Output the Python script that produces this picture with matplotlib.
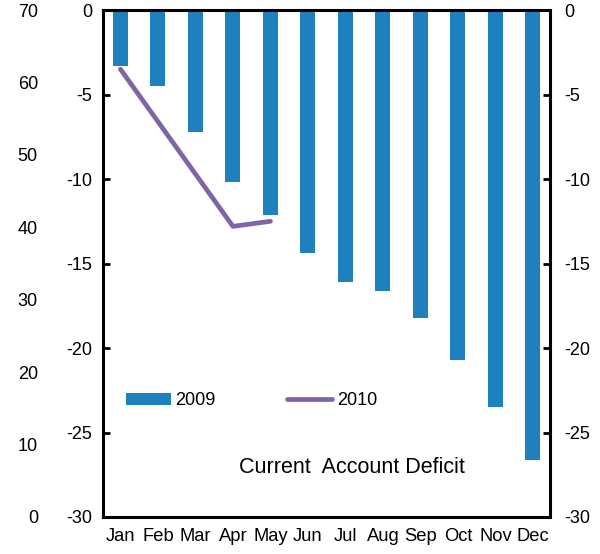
import matplotlib
matplotlib.use("Agg")
import matplotlib.pyplot as plt
import numpy as np

plt.rcParams['font.family'] = ['Liberation Sans', 'DejaVu Sans']
plt.rcParams['axes.unicode_minus'] = False

months = ["Jan", "Feb", "Mar", "Apr", "May", "Jun", "Jul", "Aug", "Sep", "Oct", "Nov", "Dec"]
deficit_2009 = [-3.3, -4.5, -7.2, -10.2, -12.1, -14.4, -16.1, -16.6, -18.2, -20.7, -23.5, -26.6]
deficit_2010 = [-3.5, -6.6, -9.7, -12.8, -12.5]
left_ticks = [0, -5, -10, -15, -20, -25, -30]
outer_ticks = [0, 10, 20, 30, 40, 50, 60, 70]

bar_color = "#1f80c0"
line_color = "#8064a8"

fig = plt.figure(figsize=(6.0, 5.54), dpi=100)
ax = fig.add_axes([0.172, 0.0668, 0.745, 0.915])
x = np.arange(len(months))
bars = ax.bar(x, deficit_2009, width=0.4, color=bar_color, label="2009", zorder=2)
line, = ax.plot(np.arange(len(deficit_2010)), deficit_2010, color=line_color, lw=3.4,
                solid_capstyle='round', label="2010", zorder=3)

ax.set_xlim(-0.46, 11.46)
ax.set_ylim(-30, 0)
ax.set_xticks(x)
ax.set_xticklabels(months, fontsize=13.2)
ax.tick_params(axis='x', length=0, pad=8)
ax.set_yticks(left_ticks)
ax.tick_params(axis='y', direction='in', length=5, width=2, labelsize=13, pad=8,
               left=True, right=True, labelleft=True)
for s in ax.spines.values():
    s.set_linewidth(2.2)
    s.set_color('black')

# right axis
axr = ax.twinx()
axr.set_ylim(-30, 0)
axr.set_yticks(left_ticks)
axr.tick_params(axis='y', direction='in', length=5, width=2, labelsize=13, pad=10)
for s in axr.spines.values():
    s.set_visible(False)

# outer left axis 0-70
axo = ax.twinx()
axo.set_ylim(0, 70)
axo.set_yticks(outer_ticks)
axo.yaxis.tick_left()
axo.tick_params(axis='y', length=0, labelsize=13, pad=47)
for s in axo.spines.values():
    s.set_visible(False)

ax.legend([bars, line], ["2009", "2010"], loc='center left', bbox_to_anchor=(0.014, 0.229),
          ncol=2, frameon=False, fontsize=13, handlelength=2.5, handleheight=0.6,
          handletextpad=0.25, columnspacing=3.95)

ax.text(0.557, 0.097, "Current  Account Deficit", transform=ax.transAxes,
        ha='center', va='center', fontsize=15.5)

fig.savefig("out.png", dpi=100)
